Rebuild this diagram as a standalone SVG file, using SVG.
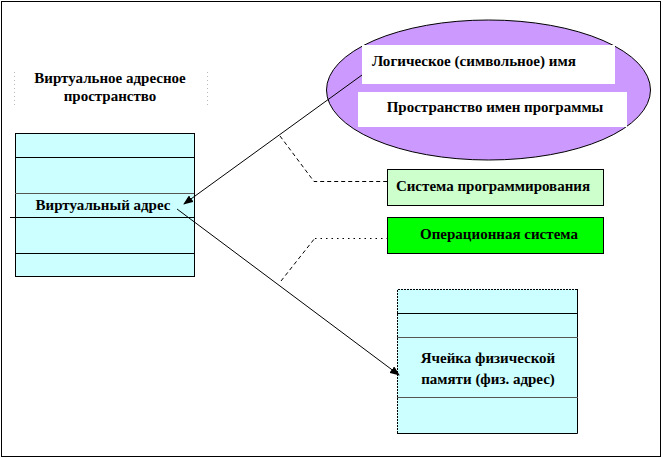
<svg xmlns="http://www.w3.org/2000/svg" width="663" height="459" viewBox="0 0 663 459">
<defs>
<style>
text{font-family:"Liberation Serif","Times New Roman",Times,serif;font-weight:bold;font-size:15px;fill:#000}
.c{text-anchor:middle}
.cell{fill:#ccffff;stroke:none}
.ln{stroke:#000;stroke-width:1;fill:none}
.gl{stroke:#555;stroke-width:1;fill:none}
.con{stroke:#000;stroke-width:1;fill:none}
</style>
<marker id="ah" markerWidth="10" markerHeight="8" refX="9" refY="4" orient="auto" markerUnits="userSpaceOnUse">
<path d="M0,0 L10,4 L0,8 Z" fill="#000"/>
</marker>
</defs>
<rect x="0" y="0" width="663" height="459" fill="#fff"/>
<rect x="1.5" y="1.5" width="659" height="455" fill="none" stroke="#000" stroke-width="1"/>

<g id="title">
<path d="M14.5,72 V106 M207.5,72 V106" stroke="#bbb" stroke-width="1" stroke-dasharray="1,3"/>
<text class="c" x="110" y="83">Виртуальное адресное</text>
<text class="c" x="110" y="101">пространство</text>
</g>

<g id="virtual-space">
<rect class="cell" x="15" y="133" width="179" height="144"/>
<rect class="ln" x="15.5" y="133.5" width="179" height="143"/>
<path class="ln" d="M15,157.5 H194"/>
<path class="gl" d="M15,193.5 H194"/>
<path class="ln" d="M10,217.5 H194 M15,253.5 H194"/>
<text class="c" x="103" y="210">Виртуальный адрес</text>
</g>

<g id="name-space">
<ellipse cx="488.5" cy="90" rx="162" ry="70" fill="#cc99ff" stroke="#000" stroke-width="1"/>
<rect x="362" y="45" width="253" height="39" fill="#fff"/>
<rect x="358" y="92" width="269" height="35" fill="#fff"/>
<text x="372" y="66" textLength="204" lengthAdjust="spacingAndGlyphs">Логическое (символьное) имя</text>
<text class="c" x="495" y="112">Пространство имен программы</text>
</g>

<g id="prog-system">
<rect x="387.5" y="169.5" width="216" height="36" fill="#ccffcc" stroke="#000" stroke-width="1"/>
<text class="c" x="493" y="191">Система программирования</text>
</g>

<g id="os">
<rect x="387.5" y="217.5" width="216" height="36" fill="#00ff00" stroke="#000" stroke-width="1"/>
<text class="c" x="499" y="239">Операционная система</text>
</g>

<g id="physical-memory">
<rect class="cell" x="397" y="289" width="181" height="144"/>
<path class="ln" d="M577.5,289 V433.5 H397"/>
<path stroke="#000" stroke-width="1" fill="none" stroke-dasharray="2,1" d="M397.5,433 V289.5 H578"/>
<path class="ln" d="M397,313.5 H578"/>
<path class="gl" d="M397,337.5 H578 M397,397.5 H578"/>
<text class="c" x="488" y="363">Ячейка физической</text>
<text class="c" x="488" y="384">памяти (физ. адрес)</text>
</g>

<g id="connectors">
<path class="con" d="M362,75 L184,204" marker-end="url(#ah)"/>
<path class="con" d="M177,209 L399,375" marker-end="url(#ah)"/>
<path class="con" stroke-dasharray="4,3" d="M280,136 L314,181.5 H387"/>
<path class="con" stroke-dasharray="4,3" d="M281,281 L315,238"/>
<path class="con" stroke-dasharray="1.5,4" stroke-width="1.5" d="M315,238.5 H387"/>
</g>
</svg>
